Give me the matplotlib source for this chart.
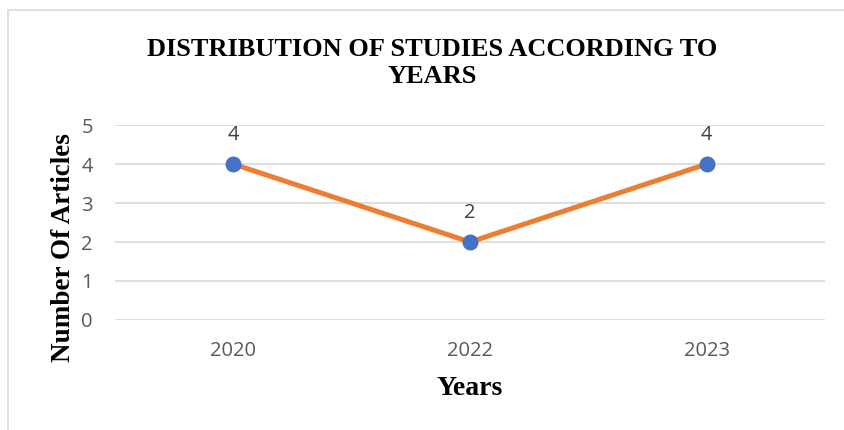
import matplotlib.pyplot as plt
from matplotlib.patches import Rectangle

# Data
years = ['2020', '2022', '2023']
articles = [4, 2, 4]
yticks = [0, 1, 2, 3, 4, 5]

fig = plt.figure(figsize=(8.44, 4.30), dpi=100)
ax = fig.add_axes([0.1363, 0.256, 0.8412, 0.453])

# outer chart frame
fig.patches.append(Rectangle((8 / 844, -0.05), 1.0, 1 - 10 / 430 + 0.05,
                             transform=fig.transFigure, fill=False,
                             edgecolor='#d9d9d9', linewidth=1.2))

x = list(range(len(years)))
ax.plot(x, articles, color='#ED7D31', linewidth=3.6, zorder=3)
ax.plot(x, articles, linestyle='none', marker='o', markersize=10.5,
        color='#4472C4', zorder=4)

for xi, v in zip(x, articles):
    ax.annotate(str(v), (xi, v), xytext=(0, 14), textcoords='offset points',
                ha='center', va='bottom', fontsize=14.5, color='#404040',
                family='Open Sans')

ax.set_xlim(-0.5, 2.5)
ax.set_ylim(0, 5)
ax.set_yticks(yticks)
ax.set_xticks(x)
ax.set_xticklabels(years)
ax.grid(axis='y', color='#d9d9d9', linewidth=1.2)
ax.set_axisbelow(True)
for s in ax.spines.values():
    s.set_visible(False)
ax.tick_params(length=0, labelsize=14.5, labelcolor='#595959')
for lab in ax.get_xticklabels() + ax.get_yticklabels():
    lab.set_family('Open Sans')
ax.tick_params(axis='x', pad=15)
ax.tick_params(axis='y', pad=16)

fig.text(0.512, 0.853, 'DISTRIBUTION OF STUDIES ACCORDING TO\nYEARS',
         ha='center', va='center', fontsize=19, fontweight='bold',
         family='Liberation Serif', linespacing=1.25)
fig.text(0.557, 0.097, 'Years', ha='center', va='center', fontsize=20,
         fontweight='bold', family='Liberation Serif')
fig.text(0.075, 0.424, 'Number Of Articles', ha='center', va='center',
         rotation=90, fontsize=19.5, fontweight='bold', family='Liberation Serif')

fig.savefig('out.png', dpi=100)
